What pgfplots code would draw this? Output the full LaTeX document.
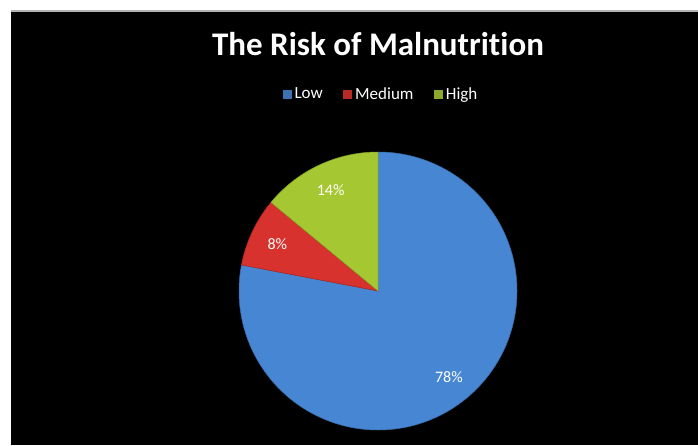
\documentclass[border=0pt]{standalone}
\usepackage{fontspec}
\setmainfont{Carlito}[Ligatures=NoCommon]
\usepackage{pgfplots}
\usepackage{pgfplotstable}
\pgfplotsset{compat=1.18}

\definecolor{slice0}{RGB}{70,134,210}
\definecolor{slice1}{RGB}{215,50,45}
\definecolor{slice2}{RGB}{165,200,50}
\newcommand\labelfont{\fontsize{16}{18}\selectfont}

% share of each risk level, in percent
\pgfplotstableread{
name value
Low 78
Medium 8
High 14
}\piedata

\begin{document}
\begin{tikzpicture}
\useasboundingbox (0pt,0pt) rectangle (698pt,445pt);
\fill[black] (0pt,0pt) rectangle (698pt,445pt);
\fill[white] (0pt,434pt) rectangle (698pt,445pt);
\fill[gray!60] (11pt,433pt) rectangle (698pt,435pt);
\fill[white] (0pt,0pt) rectangle (11pt,445pt);

\begin{axis}[
  anchor=origin, at={(378pt,154pt)},
  x=139pt, y=139pt,
  xmin=-1, xmax=1, ymin=-1, ymax=1,
  hide axis, clip=false,
  legend columns=3,
  legend style={at={(axis description cs:0.51,1.2085)}, anchor=center,
    draw=none, fill=none, text=white, font=\fontsize{17}{20}\selectfont,
    nodes={inner sep=2.5pt},
    /tikz/every even column/.append style={column sep=17pt}},
  legend image code/.code={\fill[#1] (0pt,-5pt) rectangle (10pt,5pt);},
]
\pgfmathsetmacro\cum{0}
\pgfplotsforeachungrouped \idx in {0,1,2}{%
  \pgfplotstablegetelem{\idx}{value}\of\piedata
  \let\val=\pgfplotsretval
  \pgfmathsetmacro\sa{90-3.6*\cum}
  \pgfmathsetmacro\cum{\cum+\val}
  \pgfmathsetmacro\sb{90-3.6*\cum}
  \pgfmathsetmacro\sm{(\sa+\sb)/2}
  \edef\slice{%
    \noexpand\fill[slice\idx, draw=slice\idx!80!black, line width=0.5pt]
      (axis cs:0,0) -- (axis cs:{cos(\sa)},{sin(\sa)})
      arc[start angle=\sa, end angle=\sb, radius=139pt] -- cycle;
    \noexpand\node[text=white, font=\noexpand\labelfont]
      at (axis cs:{0.8*cos(\sm)},{0.8*sin(\sm)}) {\val\noexpand\%};
  }%
  \slice
}
\addlegendimage{fill=slice0!85!black}\addlegendentry{Low}
\addlegendimage{fill=slice1!85!black}\addlegendentry{Medium}
\addlegendimage{fill=slice2!85!black}\addlegendentry{High}
\end{axis}

\node[anchor=base, text=white, font=\bfseries\fontsize{33}{40}\selectfont]
  at (378pt,389pt) {The Risk of Malnutrition};
\end{tikzpicture}
\end{document}
